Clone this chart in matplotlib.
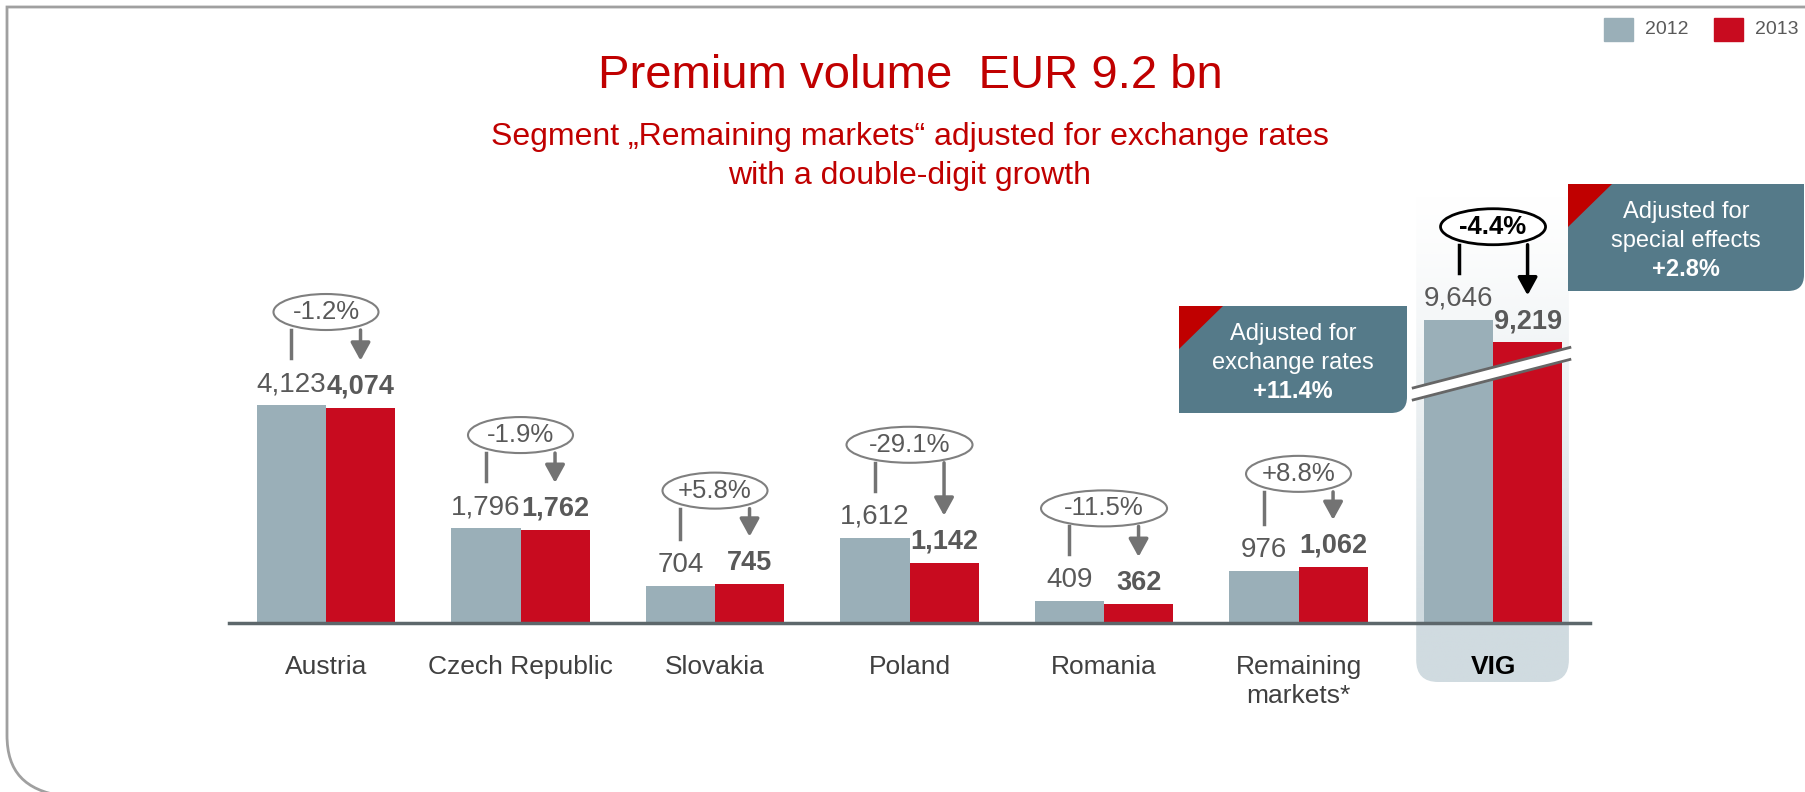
import numpy as np
import matplotlib
matplotlib.use("Agg")
import matplotlib.pyplot as plt
from matplotlib.path import Path
from matplotlib.patches import PathPatch, Ellipse, Polygon, Rectangle
from matplotlib.colors import to_rgb

plt.rcParams['font.family'] = ['Liberation Sans', 'DejaVu Sans']

# data (EUR m)
categories = ["Austria", "Czech Republic", "Slovakia", "Poland", "Romania",
              "Remaining\nmarkets*", "VIG"]
premium_2012 = [4123, 1796, 704, 1612, 409, 976, 9646]
premium_2013 = [4074, 1762, 745, 1142, 362, 1062, 9219]
growth = ["-1.2%", "-1.9%", "+5.8%", "-29.1%", "-11.5%", "+8.8%", "-4.4%"]
years = ["2012", "2013"]
vig_axis_cut = 3910  # part of the VIG bars removed by the axis break

GREY = "#9aafb8"
RED = "#c80b1f"
TITLE_RED = "#c00000"
TXT = "#595959"
BOX = "#557a89"

W, H = 1806, 792
fig = plt.figure(figsize=(W / 100, H / 100), dpi=100)

# background layer (pixel coords)
bg = fig.add_axes([0, 0, 1, 1])
bg.set_zorder(0)
# bar layer (data coords)
ax = fig.add_axes([0, 0, 1, 1])
ax.set_zorder(1)
ax.patch.set_alpha(0)
# overlay layer (pixel coords)
ov = fig.add_axes([0, 0, 1, 1])
ov.set_zorder(2)
ov.patch.set_alpha(0)

ax.set_xlim(-1.676, 7.609)
ax.set_ylim(-3196, 11783)

x = np.arange(len(categories))
bw = 0.355
h12 = np.array(premium_2012, dtype=float)
h13 = np.array(premium_2013, dtype=float)
h12[-1] -= vig_axis_cut
h13[-1] -= vig_axis_cut

ax.bar(x - bw / 2, h12, width=bw, color=GREY, zorder=2)
ax.bar(x + bw / 2, h13, width=bw, color=RED, zorder=2)
ax.plot([x[0] - 0.5, x[-1] + 0.5], [0, 0], color="#5d676b", lw=2.5, zorder=3)


def to_px(xd, yd):
    dx, dy = ax.transData.transform((xd, yd))
    return dx, H - dy


# frame
frame = Path([(W, 7), (7, 7), (7, 735), (7, 772), (25, 790), (62, 796)],
             [Path.MOVETO, Path.LINETO, Path.LINETO, Path.CURVE4, Path.CURVE4, Path.CURVE4])
bg.add_patch(PathPatch(frame, fill=False, edgecolor="#a0a0a0", lw=2))

# VIG highlight column
vx0, _ = to_px(x[-1] - bw - 0.04, 0)
vx1, _ = to_px(x[-1] + bw + 0.035, 0)
vy0, vy1, r = 190, 682, 22
hl = Path([(vx0, vy0), (vx1, vy0), (vx1, vy1 - r), (vx1, vy1), (vx1 - r, vy1),
           (vx0 + r, vy1), (vx0, vy1), (vx0, vy1 - r), (vx0, vy0)],
          [Path.MOVETO, Path.LINETO, Path.LINETO, Path.CURVE3, Path.CURVE3,
           Path.LINETO, Path.CURVE3, Path.CURVE3, Path.CLOSEPOLY])
hl_patch = PathPatch(hl, facecolor="none", edgecolor="none")
bg.add_patch(hl_patch)
n = 200
grad = np.ones((n, 1, 4))
grad[:, 0, :3] = to_rgb("#d0dbe0")
t = np.linspace(0, 1, n)
grad[:, 0, 3] = np.clip(t / 0.85, 0, 1) ** 1.3
im = bg.imshow(grad, extent=(vx0, vx1, vy1, vy0), origin="upper", aspect="auto")
im.set_clip_path(hl_patch)

bg.set_xlim(0, W)
bg.set_ylim(H, 0)
ov.set_xlim(0, W)
ov.set_ylim(H, 0)
for a in (bg, ax, ov):
    a.axis("off")

# title
ov.text(910, 76, "Premium volume  EUR 9.2 bn", ha="center", va="center",
        fontsize=34, color=TITLE_RED)
ov.text(910, 137, "Segment \u201eRemaining markets\u201c adjusted for exchange rates",
        ha="center", va="center", fontsize=23, color=TITLE_RED)
ov.text(910, 176, "with a double-digit growth", ha="center", va="center",
        fontsize=23, color=TITLE_RED)

# legend
for (lx, c), yr in zip([(1604, GREY), (1714, RED)], years):
    ov.add_patch(Rectangle((lx, 18), 29, 23, color=c))
    ov.text(lx + 41, 30, yr, ha="left", va="center", fontsize=14, color=TXT)

# category labels
for i, cat in enumerate(categories):
    cx, _ = to_px(x[i], 0)
    last = i == len(categories) - 1
    ov.text(cx, 655, cat, ha="center", va="top", fontsize=19, linespacing=1.25,
            color="black" if last else "#404040",
            fontweight="bold" if last else "normal")

# value labels and change annotations
for i in range(len(categories)):
    gx, gy = to_px(x[i] - bw / 2, h12[i])
    rx, ry = to_px(x[i] + bw / 2, h13[i])
    cx, _ = to_px(x[i], 0)
    gl, rl = gy - 21, ry - 21
    ov.text(gx, gl, f"{premium_2012[i]:,}", ha="center", va="center",
            fontsize=20, color=TXT)
    ov.text(rx, rl, f"{premium_2013[i]:,}", ha="center", va="center",
            fontsize=19.5, color=TXT, fontweight="bold")

    last = i == len(categories) - 1
    ec = "black" if last else "#7f7f7f"
    ey = min(gl, rl) - 72
    ew = 21 * len(growth[i])
    eh = 36
    ov.add_patch(Ellipse((cx, ey), ew, eh, facecolor="white", edgecolor=ec,
                         lw=2 if last else 1.5, zorder=5))
    ov.text(cx, ey, growth[i], ha="center", va="center", fontsize=18.5, zorder=6,
            color="black" if last else TXT,
            fontweight="bold" if last else "normal")
    lc = "black" if last else "#737373"
    ov.plot([gx, gx], [ey + eh / 2, gl - 26], color=lc, lw=2.5, zorder=4)
    ov.annotate("", xy=(rx, rl - 26), xytext=(rx, ey + eh / 2),
                arrowprops=dict(arrowstyle="-|>,head_length=0.6,head_width=0.33",
                                mutation_scale=18, color=lc, lw=2.5,
                                shrinkA=0, shrinkB=0), zorder=4)

# axis break across the VIG bars
bx0, by = to_px(x[-1], h13[-1])
by += 31
bl, br = vx0 - 3, vx1 + 1
slope = -40 / 155
yl = by + slope * (bl - bx0)
yr = by + slope * (br - bx0)
ov.add_patch(Polygon([(bl, yl - 6), (br, yr - 6), (br, yr + 6), (bl, yl + 6)],
                     facecolor="white", edgecolor="none", zorder=3))
ov.plot([bl, br], [yl - 6, yr - 6], color="#666666", lw=2, zorder=3)
ov.plot([bl, br], [yl + 6, yr + 6], color="#666666", lw=2, zorder=3)


# callout boxes
def callout(x0, y0, x1, y1, lines):
    rr = 16
    p = Path([(x0, y0), (x1, y0), (x1, y1 - rr), (x1, y1), (x1 - rr, y1),
              (x0, y1), (x0, y0)],
             [Path.MOVETO, Path.LINETO, Path.LINETO, Path.CURVE3, Path.CURVE3,
              Path.LINETO, Path.CLOSEPOLY])
    ov.add_patch(PathPatch(p, facecolor=BOX, edgecolor="none", zorder=7))
    ov.add_patch(Polygon([(x0, y0), (x0 + 44, y0), (x0, y0 + 43)],
                         facecolor="#c00000", edgecolor="none", zorder=8))
    mx = (x0 + x1) / 2
    for k, (txt, bold) in enumerate(lines):
        ov.text(mx, y0 + 28 + 29 * k, txt, ha="center", va="center", fontsize=17,
                color="white", fontweight="bold" if bold else "normal", zorder=9)


callout(1179, 306, 1407, 413, [("Adjusted for", False), ("exchange rates", False),
                               ("+11.4%", True)])
callout(1568, 184, 1804, 291, [("Adjusted for", False), ("special effects", False),
                               ("+2.8%", True)])

fig.savefig("out.png", dpi=100)
